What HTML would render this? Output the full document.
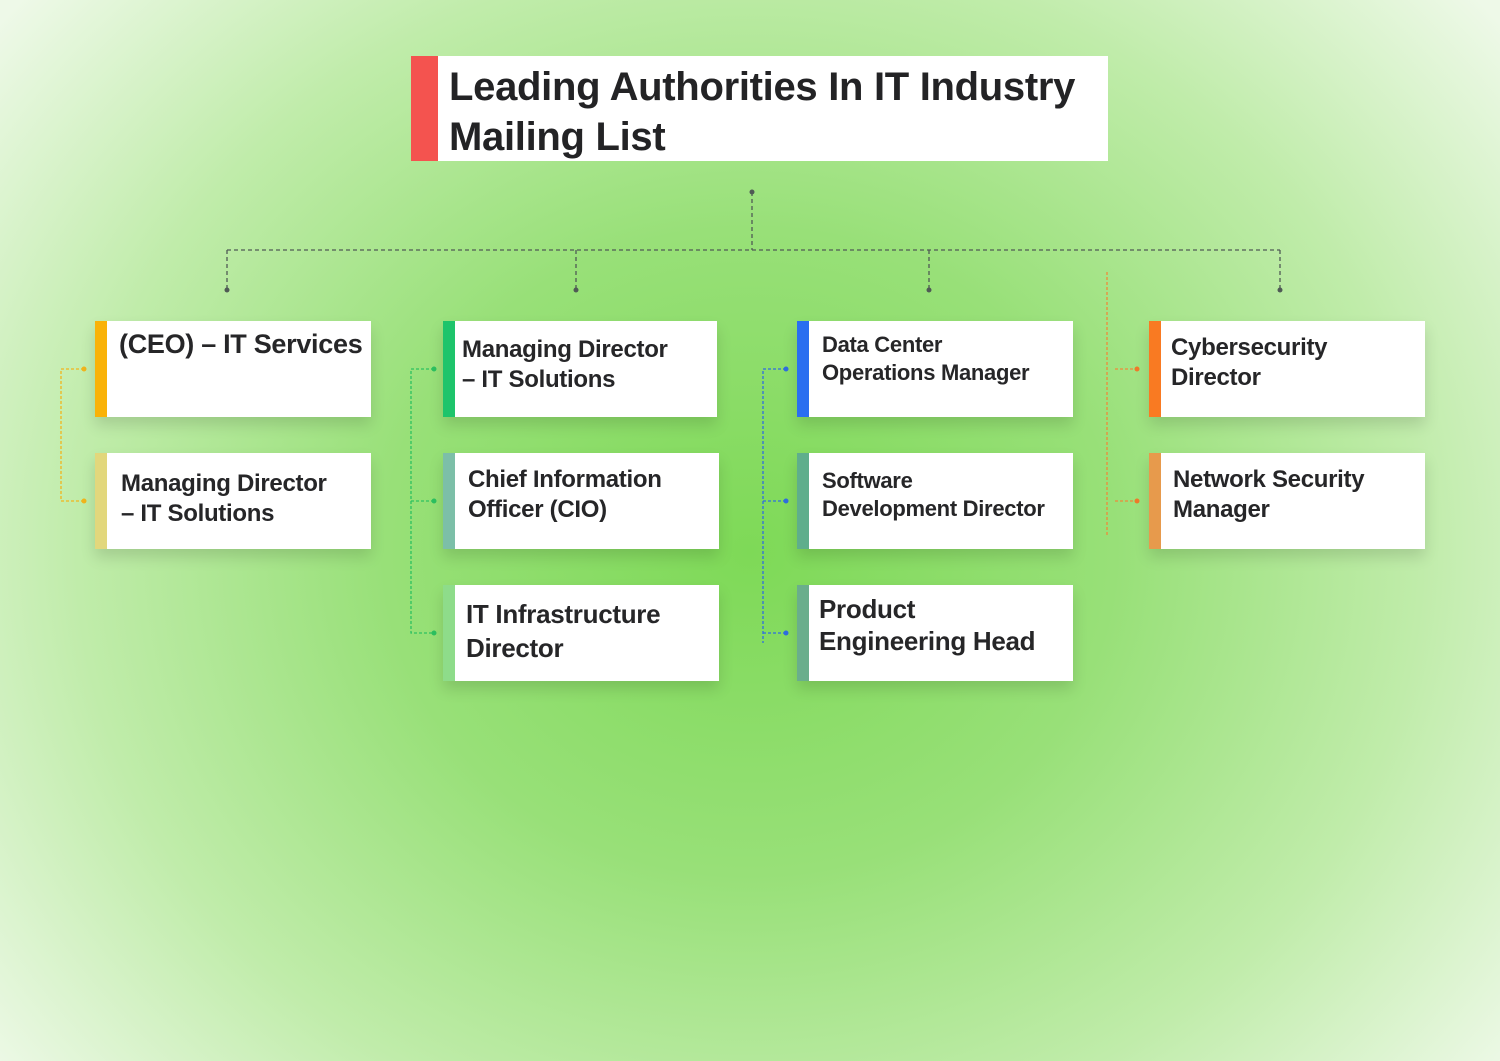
<!DOCTYPE html><html><head><style>
body{margin:0;width:1500px;height:1061px;overflow:hidden;font-family:"Liberation Sans",sans-serif;
background:radial-gradient(ellipse 64% 80% at 50% 52%,#7ed957 0%,#98e078 38%,#c0ecaa 70%,#eef9e8 100%);position:relative}
.c{position:absolute;background:#fff;box-shadow:0 8px 14px rgba(0,0,0,.13);}
.c i{position:absolute;left:0;top:0;bottom:0;width:12px}
.c span{position:absolute;left:26px;top:12px;font-weight:bold;color:#262628;font-size:24px;line-height:30px;letter-spacing:-.3px}
svg{position:absolute;left:0;top:0}
</style></head><body>
<div class="c" style="left:411px;top:56px;width:697px;height:105px;box-shadow:none"><i style="width:27px;background:#f4534f"></i><span style="left:38px;top:6px;font-size:40px;line-height:50px;color:#232325">Leading Authorities In IT Industry<br>Mailing List</span></div>
<svg width="1500" height="1061">
<g stroke="#4f5a55" stroke-width="1.3" stroke-dasharray="4,3" fill="none">
<path d="M752 192V250M227 250H1280M227 250V290M576 250V290M929 250V290M1280 250V290"/></g>
<g fill="#4f5a55"><circle cx="752" cy="192" r="2.5"/><circle cx="227" cy="290" r="2.5"/><circle cx="576" cy="290" r="2.5"/><circle cx="929" cy="290" r="2.5"/><circle cx="1280" cy="290" r="2.5"/></g>
<g stroke-dasharray="3,2" fill="none" stroke-width="1.3">
<path stroke="#f1b51c" d="M84 369H61V501H84"/>
<path stroke="#2cc160" d="M434 369H411V633H434M411 501H434"/>
<path stroke="#2f6de0" d="M786 369H763V643M763 501H786M763 633H786"/>
<path stroke="#ef8a3a" d="M1107 272V535M1115 369H1137M1115 501H1137"/></g>
<g><circle cx="84" cy="369" r="2.5" fill="#f1b51c"/><circle cx="84" cy="501" r="2.5" fill="#f1b51c"/>
<circle cx="434" cy="369" r="2.5" fill="#2cc160"/><circle cx="434" cy="501" r="2.5" fill="#2cc160"/><circle cx="434" cy="633" r="2.5" fill="#2cc160"/>
<circle cx="786" cy="369" r="2.5" fill="#2f6de0"/><circle cx="786" cy="501" r="2.5" fill="#2f6de0"/><circle cx="786" cy="633" r="2.5" fill="#2f6de0"/>
<circle cx="1137" cy="369" r="2.5" fill="#ef7a2a"/><circle cx="1137" cy="501" r="2.5" fill="#ef7a2a"/></g>
</svg>
<div class="c" style="left:95px;top:321px;width:276px;height:96px"><i style="background:#f9b208"></i><span style="top:8px;font-size:27px;left:24px">(CEO) – IT Services</span></div>
<div class="c" style="left:95px;top:453px;width:276px;height:96px"><i style="background:#e2d77c"></i><span style="top:16px;left:26px">Managing Director<br>– IT Solutions</span></div>
<div class="c" style="left:443px;top:321px;width:274px;height:96px"><i style="background:#1ec46b"></i><span style="top:14px;left:19px">Managing Director<br>– IT Solutions</span></div>
<div class="c" style="left:443px;top:453px;width:276px;height:96px"><i style="background:#7cbfa8"></i><span style="top:12px;left:25px">Chief Information<br>Officer (CIO)</span></div>
<div class="c" style="left:443px;top:585px;width:276px;height:96px"><i style="background:#8edc8a"></i><span style="top:12px;left:23px;font-size:26px;line-height:34px">IT Infrastructure<br>Director</span></div>
<div class="c" style="left:797px;top:321px;width:276px;height:96px"><i style="background:#2a6ef0"></i><span style="top:10px;left:25px;font-size:22px;line-height:28px">Data Center<br>Operations Manager</span></div>
<div class="c" style="left:797px;top:453px;width:276px;height:96px"><i style="background:#5fae8c"></i><span style="top:14px;left:25px;font-size:22px;line-height:28px">Software<br>Development Director</span></div>
<div class="c" style="left:797px;top:585px;width:276px;height:96px"><i style="background:#6aae8c"></i><span style="top:8px;left:22px;font-size:26px;line-height:32px">Product<br>Engineering Head</span></div>
<div class="c" style="left:1149px;top:321px;width:276px;height:96px"><i style="background:#f97a22"></i><span style="top:12px;left:22px">Cybersecurity<br>Director</span></div>
<div class="c" style="left:1149px;top:453px;width:276px;height:96px"><i style="background:#e79a4c"></i><span style="top:12px;left:24px">Network Security<br>Manager</span></div>
</body></html>
